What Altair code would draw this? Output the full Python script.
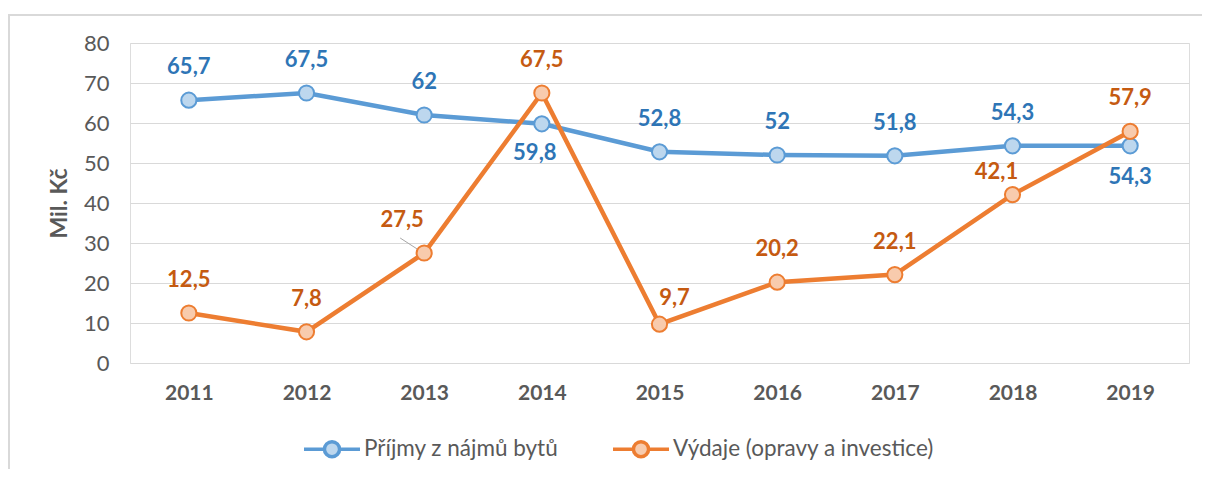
import altair as alt
import pandas as pd

years = ["2011", "2012", "2013", "2014", "2015", "2016", "2017", "2018", "2019"]
prijmy = [65.7, 67.5, 62.0, 59.8, 52.8, 52.0, 51.8, 54.3, 54.3]
vydaje = [12.5, 7.8, 27.5, 67.5, 9.7, 20.2, 22.1, 42.1, 57.9]
series_names = ["Příjmy z nájmů bytů", "Výdaje (opravy a investice)"]
y_ticks = [0, 10, 20, 30, 40, 50, 60, 70, 80]

line_colors = ["#5B9BD5", "#ED7D31"]
fill_colors = ["#BDD7EE", "#F8CBAD"]
label_colors = ["#2E75B6", "#C55A11"]
FONT = "Lato"
GRAY = "#595959"

rows = []
for s, vals in zip(series_names, [prijmy, vydaje]):
    for yr, v in zip(years, vals):
        rows.append({"year": yr, "series": s, "value": v,
                     "label": f"{v:g}".replace(".", ",")})
df = pd.DataFrame(rows)

x_enc = alt.X("year:N", sort=years, scale=alt.Scale(type="point", padding=0.5),
              axis=alt.Axis(labelAngle=0, domain=False, ticks=False, grid=False,
                            labelFont=FONT, labelFontSize=21, labelFontWeight="bold",
                            labelColor=GRAY, labelPadding=19, title=None))
y_enc = alt.Y("value:Q", scale=alt.Scale(domain=[0, 80], nice=False),
              axis=alt.Axis(values=y_ticks, grid=True, gridColor="#D9D9D9", gridWidth=1,
                            domain=False, ticks=False, labelFont=FONT, labelFontSize=22,
                            labelColor=GRAY, labelPadding=21,
                            title="Mil. Kč", titleFont=FONT, titleFontSize=23,
                            titleFontWeight="bold", titleColor=GRAY,
                            titleX=-71, titleY=160, titleAngle=-90,
                            titleAlign="center", titleBaseline="middle"))

sym_path = ("M-1,0L-0.27,0M0.27,0L1,0"
            "M-0.27,0A0.27,0.27,0,1,0,0.27,0A0.27,0.27,0,1,0,-0.27,0Z")
legend = alt.Legend(title=None, orient="none", legendX=172, legendY=376,
                    direction="horizontal", symbolType=sym_path, symbolSize=3136,
                    symbolStrokeWidth=3.5, labelFont=FONT, labelFontSize=22.5,
                    labelColor=GRAY, labelOffset=2, columnPadding=47, labelLimit=0)

stroke_scale = alt.Scale(domain=series_names, range=line_colors)
fill_scale = alt.Scale(domain=series_names, range=fill_colors)
label_scale = alt.Scale(domain=series_names, range=label_colors)

base = alt.Chart(df)
line = base.mark_line(strokeWidth=4.5).encode(
    x=x_enc, y=y_enc,
    stroke=alt.Stroke("series:N", scale=stroke_scale, legend=legend),
    detail="series:N")
points = base.mark_point(shape="circle", filled=True, size=230, strokeWidth=2, opacity=1).encode(
    x=x_enc, y=y_enc,
    stroke=alt.Stroke("series:N", scale=stroke_scale, legend=legend),
    fill=alt.Fill("series:N", scale=fill_scale, legend=legend))


def labels(series, yrs, dx, dy):
    return base.transform_filter(
        alt.FieldEqualPredicate(field="series", equal=series)
    ).transform_filter(
        alt.FieldOneOfPredicate(field="year", oneOf=yrs)
    ).mark_text(font=FONT, fontSize=22, fontWeight="bold", dx=dx, dy=dy,
                baseline="middle", align="center").encode(
        x=x_enc, y=y_enc, text="label:N",
        color=alt.Color("series:N", scale=label_scale, legend=None))


p, v = series_names
text_layers = [
    labels(p, ["2011", "2012", "2013", "2015", "2016", "2017", "2018"], 0, -33),
    labels(p, ["2014"], -7, 29),
    labels(p, ["2019"], 0, 31),
    labels(v, ["2011", "2012", "2014", "2016", "2017", "2019"], 0, -33),
    labels(v, ["2013"], -22, -33),
    labels(v, ["2015"], 15, -26),
    labels(v, ["2018"], -16, -23),
]

leader = base.transform_filter(
    alt.FieldEqualPredicate(field="series", equal=v)
).transform_filter(
    alt.FieldEqualPredicate(field="year", equal="2013")
).mark_rule(color="#A6A6A6", strokeWidth=1, xOffset=-24, yOffset=-15,
            x2Offset=-7, y2Offset=-4).encode(x=x_enc, y=y_enc, x2="year:N", y2="value:Q")

frame_df = pd.DataFrame({"k": [0]})
frame_left = alt.Chart(frame_df).mark_rule(color="#D9D9D9", strokeWidth=2).encode(
    x=alt.value(-121), y=alt.value(-28), y2=alt.value(440))
frame_top = alt.Chart(frame_df).mark_rule(color="#D9D9D9", strokeWidth=2).encode(
    x=alt.value(-122), x2=alt.value(1080), y=alt.value(-28))

chart = alt.layer(frame_left, frame_top, leader, line, points, *text_layers).properties(
    width=1059, height=320,
    autosize=alt.AutoSizeParams(type="none"),
    padding={"left": 122, "top": 35, "right": 13, "bottom": 106},
).configure_view(stroke=None).configure(background="white")

chart.save("out.html", embed_options={"renderer": "svg", "actions": False})
